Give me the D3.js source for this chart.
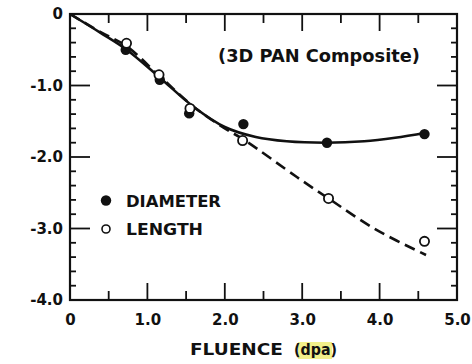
<!DOCTYPE html>
<html><head><meta charset="utf-8">
<script src="https://cdn.jsdelivr.net/npm/d3@7"></script>
<style>
html,body{margin:0;padding:0;background:#fff;}
text{font-family:"DejaVu Sans",sans-serif;font-weight:bold;fill:#111;}
</style></head>
<body><svg id="c" width="472" height="364"></svg>
<script>
// Data
const diameterX = [0.72, 1.16, 1.54, 2.24, 3.32, 4.58];
const diameterY = [-0.50, -0.92, -1.39, -1.54, -1.80, -1.68];
const lengthX = [0.73, 1.15, 1.55, 2.23, 3.34, 4.58];
const lengthY = [-0.41, -0.85, -1.32, -1.77, -2.58, -3.18];
// Hand-drawn fit curves (estimated points along them)
const diameterFitX = [0, 0.39, 0.72, 1.15, 1.6, 2.0, 2.4, 2.8, 3.3, 3.8, 4.2, 4.6];
const diameterFitY = [0, -0.26, -0.49, -0.88, -1.30, -1.58, -1.72, -1.78, -1.80, -1.78, -1.73, -1.66];
const lengthFitX = [0, 0.39, 0.73, 1.15, 1.6, 2.0, 2.25, 2.93, 3.34, 3.96, 4.6];
const lengthFitY = [0, -0.25, -0.45, -0.86, -1.30, -1.60, -1.76, -2.28, -2.58, -3.02, -3.37];
const xTickLabels = ["0", "1.0", "2.0", "3.0", "4.0", "5.0"];
const yTickLabels = ["0", "-1.0", "-2.0", "-3.0", "-4.0"];
const seriesNames = ["DIAMETER", "LENGTH"];
const titleText = "(3D PAN Composite)";
const xTitle = "FLUENCE";
const xUnit = "(dpa)";

const W = 472, H = 364;
const m = {l: 70, r: 15, t: 14, b: 64};
const svg = d3.select("#c");
const x = d3.scaleLinear().domain([0, 5]).range([m.l, W - m.r]);
const y = d3.scaleLinear().domain([-4, 0]).range([H - m.b, m.t]);

const g = svg.append("g");
// frame
g.append("rect").attr("x", x(0)).attr("y", y(0)).attr("width", x(5) - x(0)).attr("height", y(-4) - y(0))
  .attr("fill", "none").attr("stroke", "#111").attr("stroke-width", 2.2);

const xMinor = d3.range(0, 5.01, 0.5);
const yMinor = d3.range(-4, 0.01, 0.2);
const isMajX = v => Math.abs(v - Math.round(v)) < 1e-6;
const isMajY = v => Math.abs(v - Math.round(v)) < 1e-6;

// bottom & top ticks (inward)
const bt = d3.axisTop(x).tickValues(xMinor).tickFormat("").tickSizeOuter(0).tickSizeInner(0);
xMinor.forEach(v => {
  if (v <= 0 || v >= 5) return;
  const L = isMajX(v) ? 17 : 9;
  g.append("line").attr("x1", x(v)).attr("x2", x(v)).attr("y1", y(-4)).attr("y2", y(-4) - L).attr("stroke", "#111").attr("stroke-width", 1.8);
  g.append("line").attr("x1", x(v)).attr("x2", x(v)).attr("y1", y(0)).attr("y2", y(0) + L).attr("stroke", "#111").attr("stroke-width", 1.8);
});
yMinor.forEach(v => {
  if (v <= -4 + 1e-6 || v >= -1e-6) return;
  const L = isMajY(v) ? 20 : 6;
  g.append("line").attr("y1", y(v)).attr("y2", y(v)).attr("x1", x(0)).attr("x2", x(0) + L).attr("stroke", "#111").attr("stroke-width", 1.8);
  g.append("line").attr("y1", y(v)).attr("y2", y(v)).attr("x1", x(5)).attr("x2", x(5) - L).attr("stroke", "#111").attr("stroke-width", 1.8);
});

// axis labels via d3 axes (labels only)
const xAxis = d3.axisBottom(x).tickValues([0,1,2,3,4,5]).tickFormat((d,i) => xTickLabels[i]).tickSize(0).tickPadding(14);
const xa = svg.append("g").attr("transform", `translate(0,${y(-4)})`).call(xAxis);
xa.select(".domain").remove();
xa.selectAll("text").attr("font-size", 15).style("font-family", "DejaVu Sans").style("font-weight", "bold").attr("fill", "#111");
const yAxis = d3.axisLeft(y).tickValues([0,-1,-2,-3,-4]).tickFormat((d,i) => yTickLabels[-d]).tickSize(0).tickPadding(7);
const ya = svg.append("g").attr("transform", `translate(${x(0)},0)`).call(yAxis);
ya.select(".domain").remove();
ya.selectAll("text").attr("font-size", 15).style("font-family", "DejaVu Sans").style("font-weight", "bold").attr("fill", "#111");

// curves
const line = d3.line().x(d => x(d[0])).y(d => y(d[1])).curve(d3.curveCatmullRom.alpha(0.5));
g.append("path").datum(diameterFitX.map((v,i) => [v, diameterFitY[i]])).attr("d", line)
  .attr("fill", "none").attr("stroke", "#111").attr("stroke-width", 2.6);
g.append("path").datum(lengthFitX.map((v,i) => [v, lengthFitY[i]])).attr("d", line)
  .attr("fill", "none").attr("stroke", "#111").attr("stroke-width", 2.6).attr("stroke-dasharray", "11,6");

// points
g.selectAll(".dia").data(diameterX.map((v,i) => [v, diameterY[i]])).join("circle")
  .attr("cx", d => x(d[0])).attr("cy", d => y(d[1])).attr("r", 5.2).attr("fill", "#111");
g.selectAll(".len").data(lengthX.map((v,i) => [v, lengthY[i]])).join("circle")
  .attr("cx", d => x(d[0])).attr("cy", d => y(d[1])).attr("r", 4.6).attr("fill", "#fff").attr("stroke", "#111").attr("stroke-width", 1.8);

// legend
svg.append("circle").attr("cx", 106).attr("cy", 200.5).attr("r", 5.2).attr("fill", "#111");
svg.append("circle").attr("cx", 106).attr("cy", 229).attr("r", 4).attr("fill", "#fff").attr("stroke", "#111").attr("stroke-width", 1.6);
svg.append("text").attr("x", 126).attr("y", 207).attr("font-size", 15.5).attr("textLength", 95).attr("lengthAdjust", "spacingAndGlyphs").text(seriesNames[0]);
svg.append("text").attr("x", 126).attr("y", 235).attr("font-size", 15.5).attr("textLength", 77).attr("lengthAdjust", "spacingAndGlyphs").text(seriesNames[1]);

// title
svg.append("text").attr("x", 218).attr("y", 62).attr("font-size", 17).attr("textLength", 202).attr("lengthAdjust", "spacingAndGlyphs").text(titleText);

// x title
svg.append("rect").attr("x", 298).attr("y", 342).attr("width", 34).attr("height", 17).attr("fill", "#f2f08a");
svg.append("text").attr("x", 190).attr("y", 355).attr("font-size", 15.5).attr("textLength", 93).attr("lengthAdjust", "spacingAndGlyphs").text(xTitle);
svg.append("text").attr("x", 294).attr("y", 355).attr("font-size", 15.5).attr("textLength", 43).attr("lengthAdjust", "spacingAndGlyphs").text(xUnit);
</script></body></html>
